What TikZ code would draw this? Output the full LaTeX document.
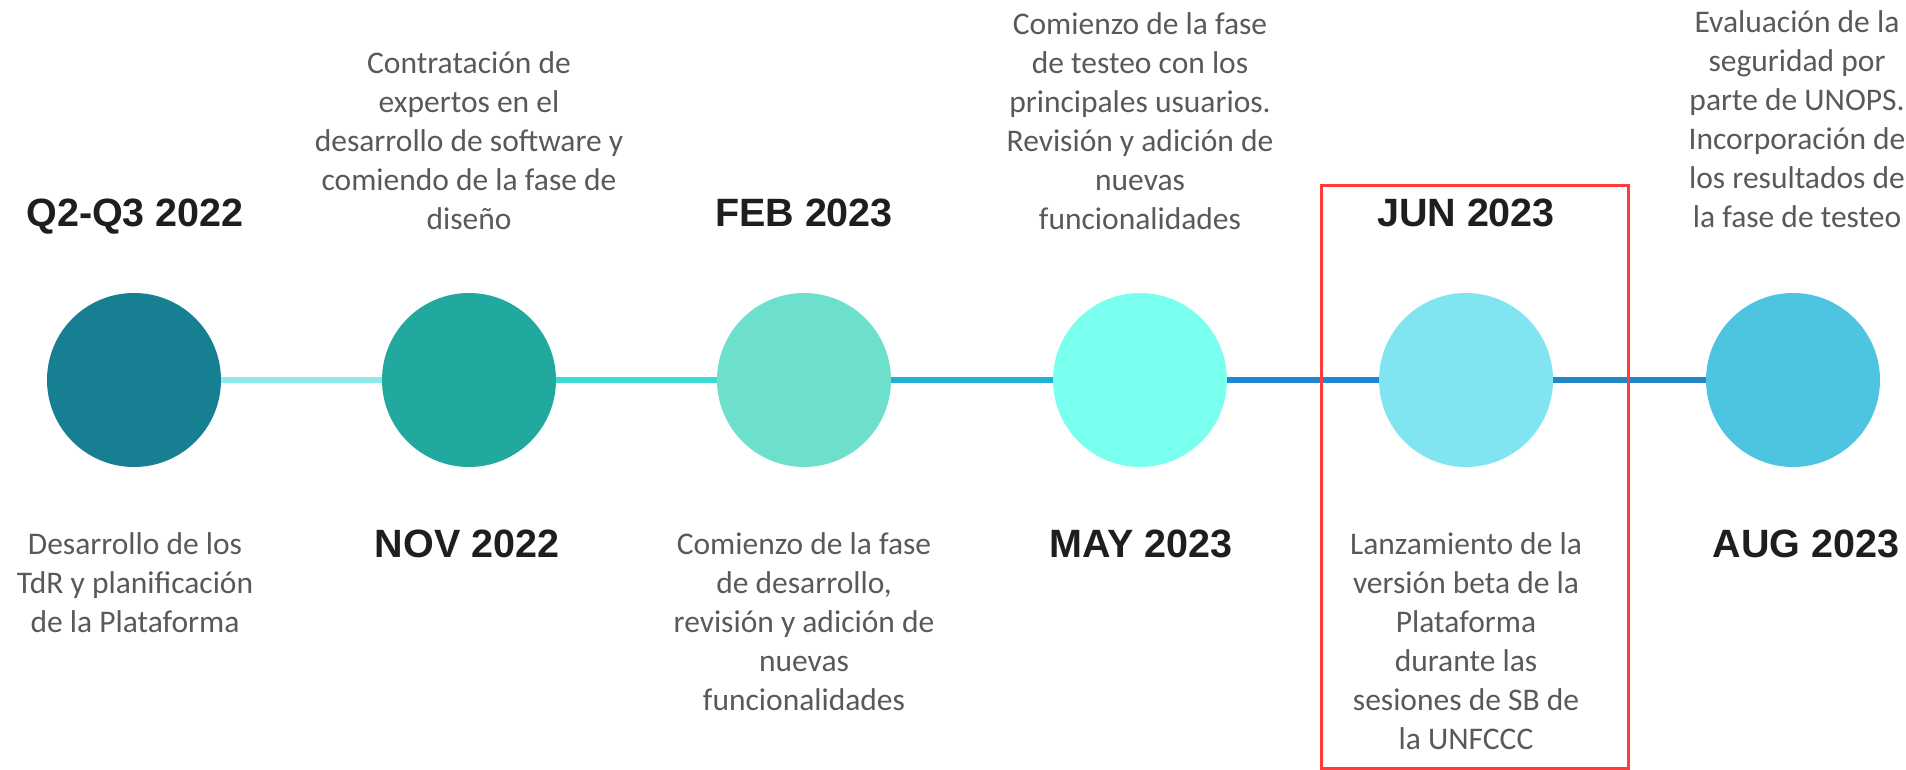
\documentclass[tikz,border=0pt]{standalone}
\usepackage{fontspec}
\setmainfont{Carlito}
\newfontfamily\datefamily{Liberation Sans}
\begin{document}
\begin{tikzpicture}[x=0.5pt,y=-0.5pt,
  dot/.style={circle,draw=none,inner sep=0pt,minimum size=87pt},
  seg/.style={line width=3pt},
  body/.style={align=center,inner sep=0pt,text=bodygray,font=\fontsize{15.75}{19.5}\selectfont},
  datelbl/.style={anchor=base,inner sep=0pt,text=dategray,font=\datefamily\bfseries\fontsize{19.75}{24}\selectfont},
  hilite/.style={draw=hired,line width=1.5pt}
]
\definecolor{bodygray}{HTML}{595959}
\definecolor{dategray}{HTML}{1E1E1E}
\definecolor{hired}{HTML}{FF3B3B}
\definecolor{cA}{HTML}{167F92}
\definecolor{cB}{HTML}{22A99F}
\definecolor{cC}{HTML}{6CE0CB}
\definecolor{cD}{HTML}{7BFFEE}
\definecolor{cE}{HTML}{80E5F0}
\definecolor{cF}{HTML}{4EC5E0}
\definecolor{sA}{HTML}{8CEBE8}
\definecolor{sB}{HTML}{3DD9D6}
\definecolor{sC}{HTML}{1FB1D9}
\definecolor{sD}{HTML}{1E88D0}
\definecolor{sE}{HTML}{2386C9}
\useasboundingbox (0,0) rectangle (1906,770);

% circles
\node[dot,fill=cA] (c1) at (134,380) {};
\node[dot,fill=cB] (c2) at (469,380) {};
\node[dot,fill=cC] (c3) at (804,380) {};
\node[dot,fill=cD] (c4) at (1140,380) {};
\node[dot,fill=cE] (c5) at (1466,380) {};
\node[dot,fill=cF] (c6) at (1793,380) {};

% connectors
\draw[seg,sA] (c1) -- (c2);
\draw[seg,sB] (c2) -- (c3);
\draw[seg,sC] (c3) -- (c4);
\draw[seg,sD] (c4) -- (c5);
\draw[seg,sE] (c5) -- (c6);

% dates
\node[datelbl] (d1) at (135,227) {Q2-Q3 2022};
\node[datelbl] (d2) at (467,557) {NOV 2022};
\node[datelbl] (d3) at (804,227) {FEB 2023};
\node[datelbl] (d4) at (1141,557) {MAY 2023};
\node[datelbl] (d5) at (1466,227) {JUN 2023};
\node[datelbl] (d6) at (1806,557) {AUG 2023};

% top texts
\node[body,anchor=south] (t2) at (469,230) {Contratación de\\expertos en el\\desarrollo de software y\\comiendo de la fase de\\diseño};
\node[body,anchor=south] (t4) at (1140,230) {Comienzo de la fase\\de testeo con los\\principales usuarios.\\Revisión y adición de\\nuevas\\funcionalidades};
\node[body,anchor=south] (t6) at (1797,228) {Evaluación de la\\seguridad por\\parte de UNOPS.\\Incorporación de\\los resultados de\\la fase de testeo};

% bottom texts
\node[body,anchor=north] (b1) at (135,532) {Desarrollo de los\\TdR y planificación\\de la Plataforma};
\node[body,anchor=north] (b3) at (804,532) {Comienzo de la fase\\de desarrollo,\\revisión y adición de\\nuevas\\funcionalidades};
\node[body,anchor=north] (b5) at (1466,532) {Lanzamiento de la\\versión beta de la\\Plataforma\\durante las\\sesiones de SB de\\la UNFCCC};

% highlight frame
\draw[hilite] (1321,186) rectangle (1628,768);
\end{tikzpicture}
\end{document}
